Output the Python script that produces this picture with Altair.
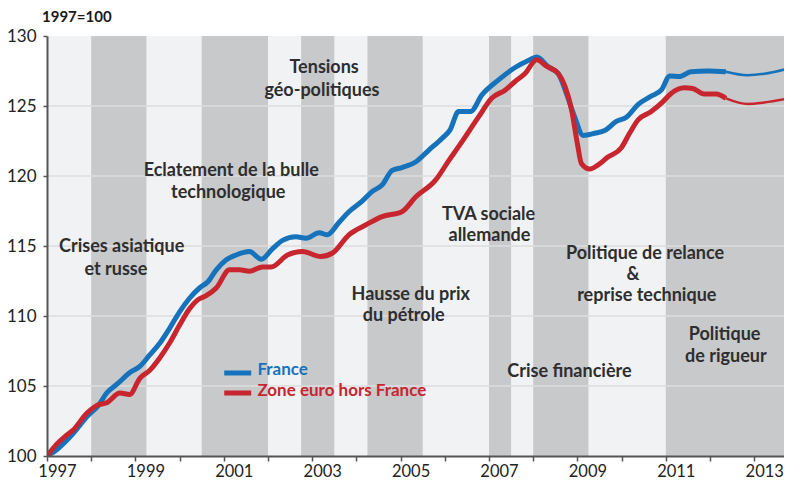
import altair as alt
import pandas as pd

# ---------------- data ----------------
fr_years = [1997.0, 1997.22, 1997.41, 1997.59, 1997.9, 1998.16, 1998.35, 1998.61, 1998.87,
            1999.1, 1999.32, 1999.55, 1999.77, 2000.0, 2000.22, 2000.45, 2000.64, 2000.83,
            2001.05, 2001.28, 2001.58, 2001.85, 2002.1, 2002.33, 2002.63, 2002.86, 2003.16,
            2003.34, 2003.61, 2003.83, 2004.13, 2004.36, 2004.58, 2004.81, 2005.03, 2005.34,
            2005.64, 2005.94, 2006.12, 2006.31, 2006.58, 2006.84, 2007.21, 2007.59, 2007.89,
            2008.08, 2008.34, 2008.57, 2008.75, 2008.94, 2009.13, 2009.39, 2009.62, 2009.88,
            2010.11, 2010.37, 2010.67, 2010.9, 2011.09, 2011.31, 2011.57, 2011.95, 2012.36,
            2012.85, 2013.23, 2013.8]
fr_values = [100.0, 100.45, 101.0, 101.6, 102.8, 103.6, 104.5, 105.2, 105.95,
             106.4, 107.2, 108.05, 109.1, 110.3, 111.25, 112.0, 112.45, 113.3,
             114.0, 114.36, 114.6, 114.05, 114.8, 115.4, 115.66, 115.55, 115.95,
             115.8, 116.7, 117.45, 118.2, 118.9, 119.35, 120.4, 120.6, 121.0,
             121.85, 122.7, 123.3, 124.6, 124.6, 125.8, 126.85, 127.75, 128.25,
             128.5, 127.8, 127.3, 125.9, 124.2, 122.9, 123.05, 123.25, 123.9,
             124.2, 125.1, 125.7, 126.15, 127.15, 127.1, 127.45, 127.5, 127.45,
             127.2, 127.3, 127.7]

ez_years = [1997.0, 1997.22, 1997.41, 1997.59, 1997.9, 1998.12, 1998.35, 1998.65, 1998.87,
            1999.1, 1999.32, 1999.55, 1999.77, 2000.0, 2000.22, 2000.41, 2000.6, 2000.83,
            2001.13, 2001.35, 2001.58, 2001.88, 2002.07, 2002.44, 2002.78, 2003.19, 2003.46,
            2003.83, 2004.21, 2004.58, 2005.03, 2005.34, 2005.79, 2006.09, 2006.39, 2006.76,
            2007.06, 2007.37, 2007.59, 2007.81, 2008.08, 2008.3, 2008.57, 2008.72, 2008.87,
            2009.0, 2009.09, 2009.28, 2009.47, 2009.69, 2009.99, 2010.18, 2010.37, 2010.67,
            2010.9, 2011.12, 2011.42, 2011.61, 2011.87, 2012.14, 2012.36,
            2012.85, 2013.23, 2013.8]
ez_values = [100.0, 100.85, 101.4, 101.85, 103.05, 103.6, 103.8, 104.5, 104.4,
             105.55, 106.1, 107.0, 108.05, 109.35, 110.5, 111.15, 111.45, 112.0,
             113.3, 113.3, 113.2, 113.5, 113.5, 114.35, 114.6, 114.25, 114.5,
             115.8, 116.5, 117.1, 117.45, 118.5, 119.7, 121.1, 122.45, 124.2,
             125.55, 126.15, 126.75, 127.3, 128.3, 127.85, 127.3, 126.4, 124.7,
             122.3, 120.9, 120.5, 120.8, 121.35, 122.0, 123.05, 124.0, 124.6,
             125.2, 125.9, 126.3, 126.25, 125.85, 125.85, 125.55,
             125.15, 125.25, 125.55]

split_year = 2012.36  # after this the lines are drawn thin (forecast)

band_start = [1998.0, 2000.5, 2002.75, 2004.25, 2007.0, 2008.0, 2011.0]
band_end = [1999.25, 2002.0, 2003.5, 2005.5, 2007.5, 2009.25, 2014.0]

grid_values = [105, 110, 115, 120, 125]
y_ticks = [100, 105, 110, 115, 120, 125, 130]
x_ticks = list(range(1997, 2014))

ann_text = ["Crises asiatique", "et russe", "Eclatement de la bulle", "technologique",
            "Tensions", "géo-politiques", "Hausse du prix", "du pétrole",
            "TVA sociale", "allemande", "Crise financière", "Politique de relance", "&",
            "reprise technique", "Politique", "de rigueur"]
ann_year = [1998.69, 1998.56, 2001.17, 2001.10, 2003.27, 2003.22, 2005.23, 2005.07,
            2006.99, 2007.01, 2008.82, 2010.53, 2010.26, 2010.57, 2012.33, 2012.36]
ann_value = [114.93, 113.29, 120.36, 118.79, 127.71, 126.07, 111.5, 110.0,
             117.21, 115.71, 106.0, 114.4, 112.93, 111.46, 108.64, 107.07]

series_names = ["France", "Zone euro hors France"]
series_colors = ["#1673bb", "#c8262f"]
legend_line_start = [2001.01, 2001.01]
legend_line_end = [2001.62, 2001.62]
legend_line_value = [105.93, 104.5]
legend_text_year = [2001.76, 2001.76]
legend_text_value = [106.14, 104.64]

# ---------------- tables ----------------
def seg_rows(name, years, values):
    rows = []
    for t, v in zip(years, values):
        if t <= split_year:
            rows.append({"series": name, "t": t, "v": v, "seg": "hist"})
        if t >= split_year:
            rows.append({"series": name, "t": t, "v": v, "seg": "proj"})
    return rows

fr_df = pd.DataFrame(seg_rows("France", fr_years, fr_values))
ez_df = pd.DataFrame(seg_rows("Zone euro hors France", ez_years, ez_values))
bands_df = pd.DataFrame({"start": band_start, "end": band_end})
grid_df = pd.DataFrame({"v": grid_values})
ann_df = pd.DataFrame({"label": ann_text, "t": ann_year, "v": ann_value})
leg_line_df = pd.DataFrame({"series": series_names, "t0": legend_line_start,
                            "t1": legend_line_end, "v": legend_line_value})
leg_text_df = pd.DataFrame({"series": series_names, "t": legend_text_year,
                            "v": legend_text_value})

FONT = "Lato"
W, H = 737, 420
x_scale = alt.Scale(domain=[1997, 1997 + W / 44.2], nice=False, zero=False)
y_scale = alt.Scale(domain=[100, 130], nice=False, zero=False)
color_scale = alt.Scale(domain=series_names, range=series_colors)

X_AX = alt.Axis(values=x_ticks, format="d", title=None, grid=False,
                labelExpr="datum.value % 2 == 1 ? datum.label : ''",
                labelOffset=10, labelFlush=False, labelOverlap=False,
                tickSize=5, tickWidth=1.5, tickColor="#555555",
                domainColor="#555555", domainWidth=2,
                labelFont=FONT, labelFontSize=16.5, labelColor="#222222",
                labelPadding=2, zindex=1)
Y_AX = alt.Axis(values=y_ticks, title=None, grid=False,
                tickSize=4, tickWidth=1.5, tickColor="#555555",
                domainColor="#555555", domainWidth=2,
                labelFont=FONT, labelFontSize=17, labelColor="#222222",
                labelPadding=7, zindex=1)

bands = alt.Chart(bands_df).mark_rect(color="#c8c9cb").encode(
    x=alt.X("start:Q", scale=x_scale, axis=X_AX),
    x2="end:Q",
    y=alt.Y(datum=100, scale=y_scale, axis=Y_AX),
    y2=alt.Y2(datum=130),
)

grid = alt.Chart(grid_df).mark_rule(color="#dcdddf", strokeWidth=1.5).encode(
    y=alt.Y("v:Q", scale=y_scale, axis=Y_AX)
)

def series_layer(df):
    return alt.Chart(df).mark_line(interpolate="monotone", clip=True, strokeCap="butt").encode(
        x=alt.X("t:Q", scale=x_scale, axis=X_AX),
        y=alt.Y("v:Q", scale=y_scale, axis=Y_AX),
        color=alt.Color("series:N", scale=color_scale, legend=None),
        detail="seg:N",
        strokeWidth=alt.StrokeWidth("seg:N", scale=alt.Scale(domain=["hist", "proj"], range=[5, 2.5]),
                                    legend=None),
    )

fr_line = series_layer(fr_df)
ez_line = series_layer(ez_df)

ann = alt.Chart(ann_df).mark_text(font=FONT, fontSize=18, fontWeight="bold", color="#2e2e2e",
                                  align="center", baseline="middle").encode(
    x=alt.X("t:Q", scale=x_scale, axis=X_AX),
    y=alt.Y("v:Q", scale=y_scale, axis=Y_AX),
    text="label:N",
)

leg_lines = alt.Chart(leg_line_df).mark_rule(strokeWidth=5).encode(
    x=alt.X("t0:Q", scale=x_scale, axis=X_AX),
    x2="t1:Q",
    y=alt.Y("v:Q", scale=y_scale, axis=Y_AX),
    color=alt.Color("series:N", scale=color_scale, legend=None),
)

leg_text = alt.Chart(leg_text_df).mark_text(font=FONT, fontSize=17, fontWeight="bold",
                                            align="left", baseline="middle").encode(
    x=alt.X("t:Q", scale=x_scale, axis=X_AX),
    y=alt.Y("v:Q", scale=y_scale, axis=Y_AX),
    text="series:N",
    color=alt.Color("series:N", scale=color_scale, legend=None),
)

chart = alt.layer(bands, grid, fr_line, ez_line, ann, leg_lines, leg_text).properties(
    width=W, height=H,
    title=alt.Title("1997=100", anchor="start", frame="group", dx=-5, offset=2,
                    font=FONT, fontSize=15, fontWeight="bold", color="#1a1a1a"),
    autosize=alt.AutoSizeParams(type="none"),
    padding={"left": 39, "top": 28, "right": 0, "bottom": 25},
).configure_view(fill="#f1f2f4", stroke=None)

chart.save("out.html", embed_options={"renderer": "svg", "actions": False})
